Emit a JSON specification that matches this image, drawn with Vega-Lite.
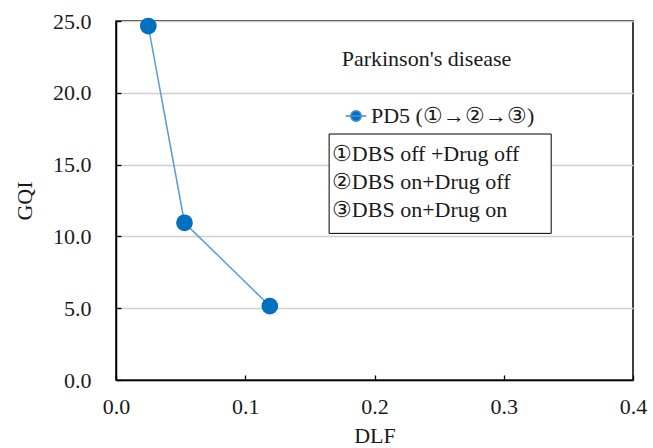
{
  "$schema": "https://vega.github.io/schema/vega-lite/v6.json",
  "autosize": {"type": "none"},
  "width": 517,
  "height": 359,
  "padding": {"left": 116, "top": 21, "right": 20, "bottom": 68},
  "config": {
    "font": "Liberation Serif",
    "view": {"stroke": "black", "strokeWidth": 1.5},
    "axis": {"labelFont": "Liberation Serif", "titleFont": "Liberation Serif", "labelFontSize": 22, "titleFontSize": 22, "labelColor": "#1a1a1a", "titleColor": "#1a1a1a", "titleFontWeight": "normal", "domainColor": "black", "domainWidth": 1.5, "tickColor": "black", "tickWidth": 1.3, "labelFlush": false, "labelOverlap": false}
  },
  "datasets": {
    "pts": [
      {"DLF": 0.025, "GQI": 24.65, "series": "PD5 (①→②→③)"},
      {"DLF": 0.053, "GQI": 10.95, "series": "PD5 (①→②→③)"},
      {"DLF": 0.119, "GQI": 5.15, "series": "PD5 (①→②→③)"}
    ],
    "notes": [
      {"x": 0.167, "y": 15.77, "label": "①DBS off +Drug off"},
      {"x": 0.167, "y": 13.82, "label": "②DBS on+Drug off"},
      {"x": 0.167, "y": 11.84, "label": "③DBS on+Drug on"}
    ],
    "box": [{"x1": 0.1649, "x2": 0.3367, "y1": 10.21, "y2": 17.13}],
    "title": [{"x": 0.2402, "y": 22.35, "label": "Parkinson's disease"}]
  },
  "layer": [
    {
      "data": {"name": "pts"},
      "mark": {"type": "line", "color": "#5b9bd5", "strokeWidth": 1.5},
      "encoding": {
        "x": {"field": "DLF", "type": "quantitative", "scale": {"domain": [0, 0.4], "nice": false}, "axis": {"title": "DLF", "format": ".1f", "values": [0, 0.1, 0.2, 0.3, 0.4], "grid": false, "tickSize": -5, "labelPadding": 21, "titlePadding": 8}},
        "y": {"field": "GQI", "type": "quantitative", "scale": {"domain": [0, 25], "nice": false}, "axis": {"title": "GQI", "format": ".1f", "values": [0, 5, 10, 15, 20, 25], "gridColor": "#d0d0d0", "gridWidth": 1.3, "tickSize": -5, "labelPadding": 30, "titlePadding": 16}}
      }
    },
    {
      "data": {"name": "pts"},
      "mark": {"type": "point", "filled": true, "opacity": 1, "size": 280},
      "encoding": {
        "x": {"field": "DLF", "type": "quantitative"},
        "y": {"field": "GQI", "type": "quantitative"},
        "color": {"field": "series", "type": "nominal", "scale": {"range": ["#0070c0"]},
          "legend": {"title": null, "orient": "none", "legendX": 229, "legendY": 84, "labelFont": "Liberation Serif", "labelFontSize": 22, "labelLimit": 400, "labelColor": "#1a1a1a", "symbolType": "M-1.3,0H1.3M0.65,0A0.65,0.65,0,1,1,-0.65,0A0.65,0.65,0,1,1,0.65,0", "symbolSize": 260, "symbolStrokeWidth": 1.5, "symbolStrokeColor": "#4a8cd0", "symbolFillColor": "#0070c0", "labelOffset": 4}}
      }
    },
    {
      "data": {"name": "box"},
      "mark": {"type": "rect", "fill": "white", "stroke": "black", "strokeWidth": 1},
      "encoding": {
        "x": {"field": "x1", "type": "quantitative"},
        "x2": {"field": "x2"},
        "y": {"field": "y1", "type": "quantitative"},
        "y2": {"field": "y2"}
      }
    },
    {
      "data": {"name": "notes"},
      "mark": {"type": "text", "align": "left", "baseline": "middle", "fontSize": 22, "color": "#1a1a1a"},
      "encoding": {
        "x": {"field": "x", "type": "quantitative"},
        "y": {"field": "y", "type": "quantitative"},
        "text": {"field": "label"}
      }
    },
    {
      "data": {"name": "title"},
      "mark": {"type": "text", "align": "center", "baseline": "middle", "fontSize": 22, "color": "#1a1a1a"},
      "encoding": {
        "x": {"field": "x", "type": "quantitative"},
        "y": {"field": "y", "type": "quantitative"},
        "text": {"field": "label"}
      }
    }
  ]
}
